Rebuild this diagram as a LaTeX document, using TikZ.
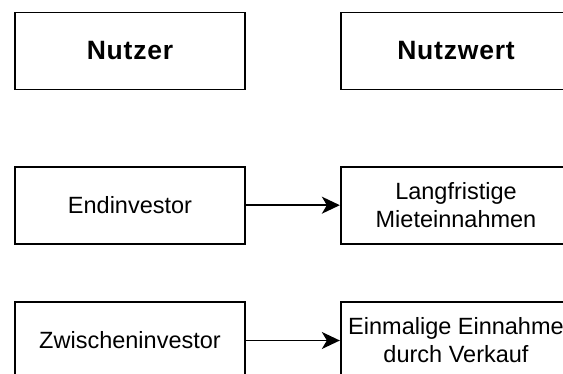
\documentclass[tikz,border=0pt]{standalone}
\usepackage{fontspec}
\setmainfont{Liberation Sans}
\usetikzlibrary{arrows.meta}
\tikzset{
  box/.style={draw=black, line width=1.7pt, fill=white, minimum width=230.6pt, minimum height=77pt, inner sep=2pt, align=center, font=\fontsize{23.5}{28}\selectfont},
  headbox/.style={box, font=\fontsize{26.5}{31}\selectfont\bfseries\addfontfeatures{LetterSpace=3}},
  conn/.style={line width=1.5pt, -{Stealth[length=18pt, width=17pt, inset=5pt]}}
}
\begin{document}
\begin{tikzpicture}[x=1pt, y=-1pt]
\useasboundingbox (0,0) rectangle (563,374);
\clip (0,0) rectangle (563,374);
\node[headbox] (nutzer) at (130,51) {Nutzer};
\node[headbox] (nutzwert) at (456,51) {Nutzwert};
\node[box] (end) at (130,205.2) {Endinvestor};
\node[box] (lang) at (456,205.2) {Langfristige\\Mieteinnahmen};
\node[box] (zw) at (130,340.5) {Zwischeninvestor};
\node[box] (einm) at (456,340.5) {Einmalige Einnahme\\durch Verkauf};
\draw[conn] (end) -- (lang);
\draw[conn] (zw) -- (einm);
\end{tikzpicture}
\end{document}
